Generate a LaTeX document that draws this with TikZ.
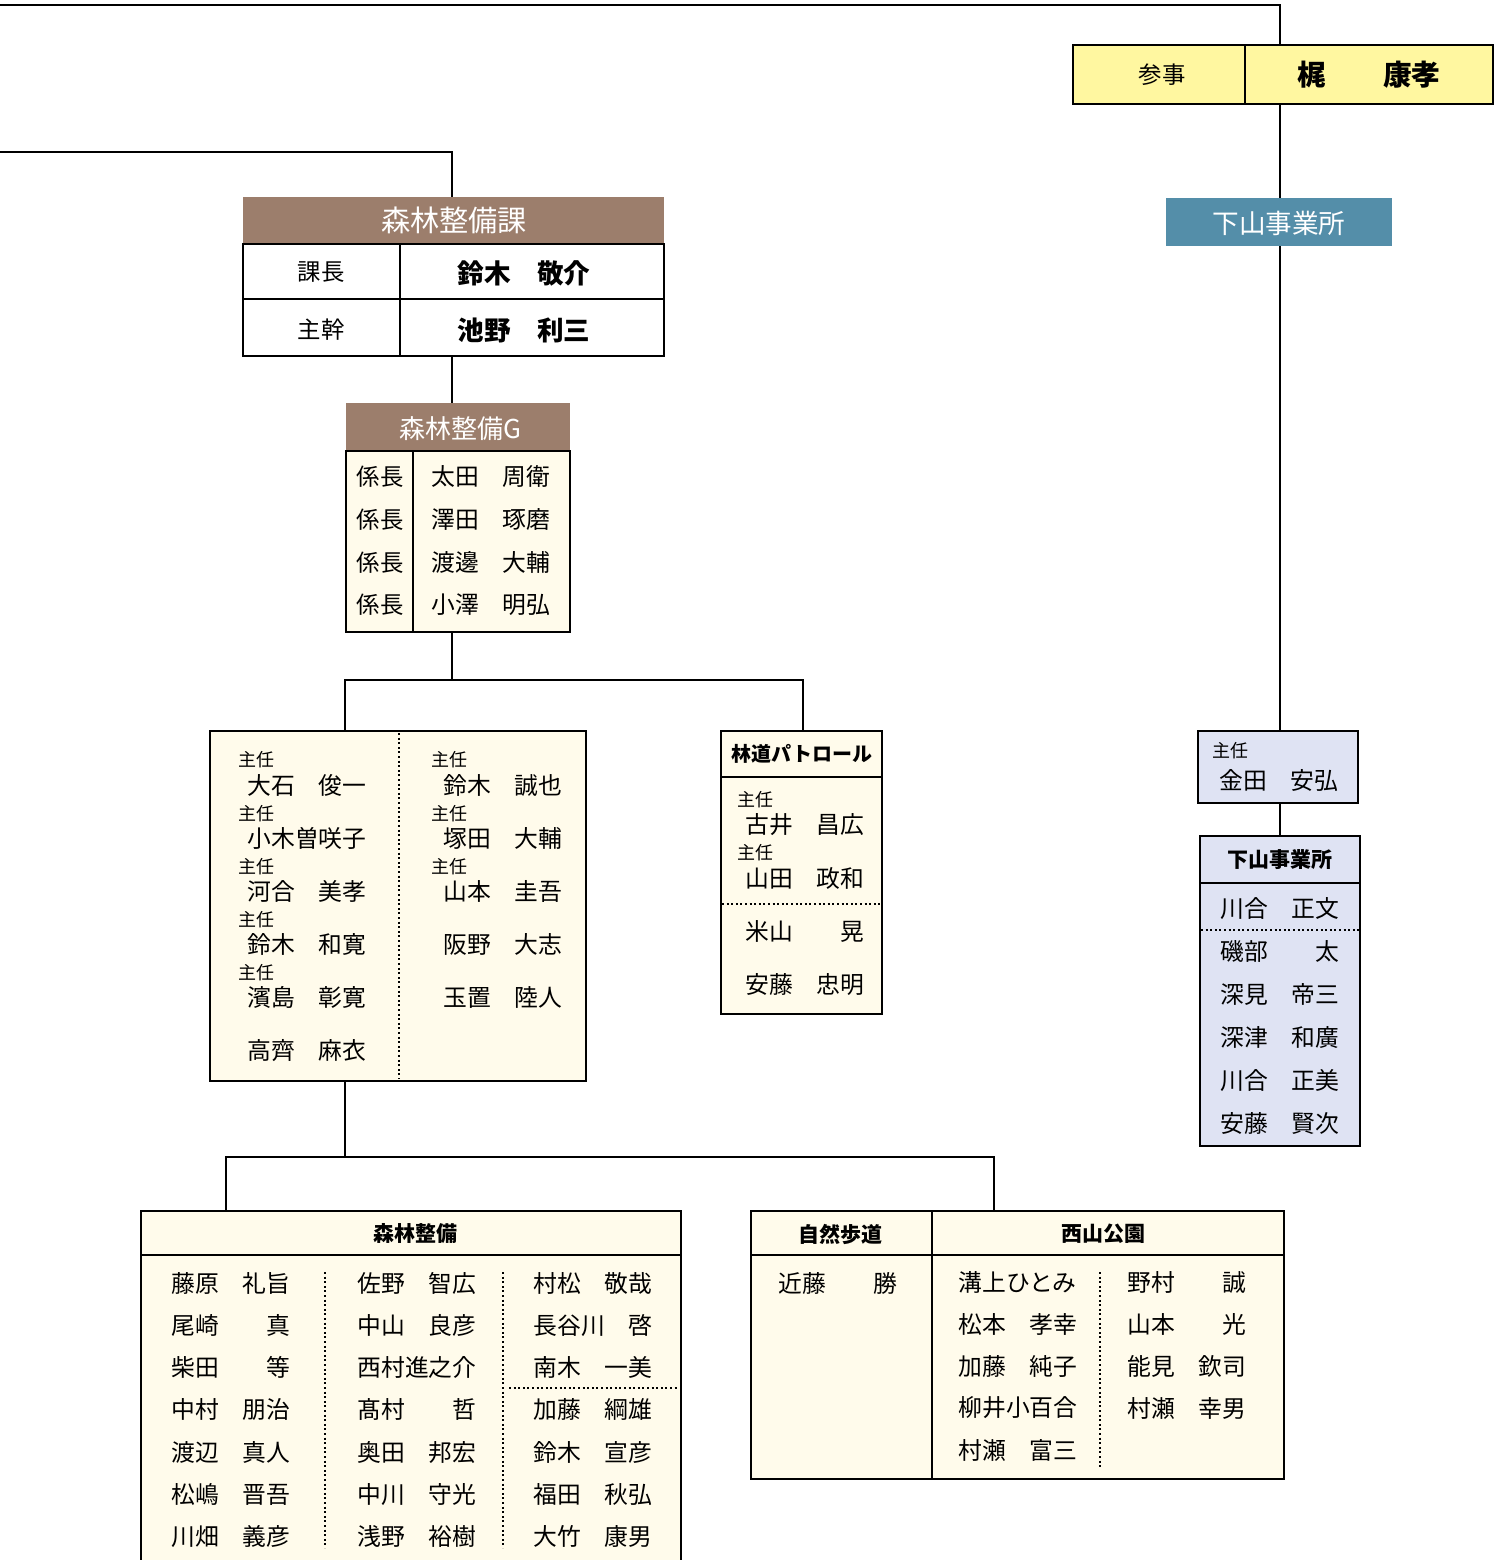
\documentclass[tikz,border=0pt]{standalone}
\usepackage{fontspec}
\setmainfont{Noto Sans CJK JP}
\usetikzlibrary{fit,backgrounds}
\definecolor{ylw}{HTML}{FFF7A0}
\definecolor{brn}{HTML}{9C7E6C}
\definecolor{blu}{HTML}{548EA9}
\definecolor{crm}{HTML}{FFFBEB}
\definecolor{lav}{HTML}{DFE3F3}
\begin{document}
\begin{tikzpicture}[x=0.5pt,y=-0.5pt,
  conn/.style={line width=1.3pt},
  frame/.style={draw, line width=1.4pt, inner sep=0pt},
  hdr/.style={fill=brn, inner sep=0pt},
  sep/.style={line width=1.1pt},
  dots/.style={line width=0.9pt, dash pattern=on 1pt off 1.3pt},
  nm/.style={anchor=west, inner sep=0pt, font=\fontsize{11.9}{12}\selectfont},
  sm/.style={anchor=west, inner sep=0pt, font=\fontsize{9}{10}\selectfont},
  lbl/.style={inner sep=0pt, font=\fontsize{11.7}{12}\selectfont},
  big/.style={inner sep=0pt, font=\bfseries\fontsize{13.3}{14}\selectfont},
  ttl/.style={inner sep=0pt, font=\bfseries\fontsize{10.5}{12}\selectfont},
  wttl/.style={inner sep=0pt, text=white},
]
\path[use as bounding box] (0,0) rectangle (1494,1560);
\clip (0,0) rectangle (1494,1560);

% ---- top: sanji
\node[frame, fill=ylw, fit={(1073,45) (1493,104)}] (sanji) {};
\draw[sep] (1245,45) -- (1245,104);
\node[lbl] (sanjiL) at (1162,75) {参事};
\node[inner sep=0pt, font=\bfseries\fontsize{14.3}{15}\selectfont] (sanjiN) at (1369,75) {梶　　康孝};

% ---- shimoyama blue
\node[fill=blu, inner sep=0pt, fit={(1166,198) (1392,246)}] (shimo) {};
\node[wttl, font=\fontsize{13.3}{14}\selectfont] (shimoL) at (1279,223) {下山事業所};

% ---- kacho
\node[hdr, fit={(243,197) (664,244)}] (kachoH) {};
\node[wttl, font=\fontsize{14.6}{15}\selectfont] (kachoT) at (454,220) {森林整備課};
\node[frame, fit={(243,244) (664,356)}] (kacho) {};
\draw[sep] (243,299) -- (664,299);
\draw[sep] (400,244) -- (400,356);
\node[lbl] (k1) at (321,272) {課長};
\node[big] (k2) at (524,273) {鈴木　敬介};
\node[lbl] (k3) at (321,330) {主幹};
\node[big] (k4) at (524,330) {池野　利三};

% ---- group G
\node[hdr, fit={(346,403) (570,451)}] (grpH) {};
\node[wttl, font=\fontsize{13}{14}\selectfont] (grpT) at (460,429) {森林整備G};
\node[frame, fill=crm, fit={(346,451) (570,632)}] (grp) {};
\draw[sep] (413,451) -- (413,632);
\foreach \nmx [count=\i] in {太田　周衛,澤田　琢磨,渡邊　大輔,小澤　明弘} {
  \node[lbl] (gk\i) at (380,{477+42.7*(\i-1)}) {係長};
  \node[nm] (gn\i) at (431,{477+42.7*(\i-1)}) {\nmx};
}

% ---- big box
\node[frame, fill=crm, fit={(210,731) (586,1081)}] (bigb) {};
\draw[dots] (399,733) -- (399,1079);
\foreach \nmx [count=\i] in {大石　俊一,小木曽咲子,河合　美孝,鈴木　和寛,濱島　彰寛,高齊　麻衣}
  \node[nm] (bl\i) at (247,{785+53.2*(\i-1)}) {\nmx};
\foreach \i in {1,...,5}
  \node[sm] (blc\i) at (238,{760+53.2*(\i-1)}) {主任};
\foreach \nmx [count=\i] in {鈴木　誠也,塚田　大輔,山本　圭吾,阪野　大志,玉置　陸人}
  \node[nm] (br\i) at (443,{785+53.2*(\i-1)}) {\nmx};
\foreach \i in {1,...,3}
  \node[sm] (brc\i) at (431,{760+53.2*(\i-1)}) {主任};

% ---- rindo patrol
\node[frame, fill=crm, fit={(721,731) (882,1014)}] (rindo) {};
\draw[sep] (721,777) -- (882,777);
\draw[dots] (722,904) -- (881,904);
\node[ttl, font=\bfseries\fontsize{10}{12}\selectfont] (rindoT) at (802,754) {林道パトロール};
\node[sm] (rc1) at (737,800) {主任};
\node[nm] (rn1) at (745,825) {古井　昌広};
\node[sm] (rc2) at (737,853) {主任};
\node[nm] (rn2) at (745,878) {山田　政和};
\node[nm] (rn3) at (745,931) {米山　　晃};
\node[nm] (rn4) at (745,985) {安藤　忠明};

% ---- right chief
\node[frame, fill=lav, fit={(1198,731) (1358,803)}] (kin) {};
\node[sm] (kinc) at (1212,751) {主任};
\node[nm] (kinn) at (1219,780) {金田　安弘};

% ---- shimoyama office box
\node[frame, fill=lav, fit={(1200,836) (1360,1146)}] (shimoB) {};
\draw[sep] (1200,883) -- (1360,883);
\draw[dots] (1201,930) -- (1359,930);
\node[ttl] (shimoBT) at (1280,860) {下山事業所};
\foreach \nmx [count=\i] in {川合　正文,磯部　　太,深見　帝三,深津　和廣,川合　正美,安藤　賢次}
  \node[nm] (sn\i) at (1220,{909+42.8*(\i-1)}) {\nmx};

% ---- shinrin seibi
\node[frame, fill=crm, fit={(141,1211) (681,1600)}] (shin) {};
\draw[sep] (141,1255) -- (681,1255);
\node[ttl] (shinT) at (415,1234) {森林整備};
\draw[dots] (325,1272) -- (325,1548);
\draw[dots] (503,1272) -- (503,1548);
\draw[dots] (509,1388) -- (678,1388);
\foreach \nmx [count=\i] in {藤原　礼旨,尾崎　　真,柴田　　等,中村　朋治,渡辺　真人,松嶋　晋吾,川畑　義彦}
  \node[nm] (sa\i) at (171,{1283+42.3*(\i-1)}) {\nmx};
\foreach \nmx [count=\i] in {佐野　智広,中山　良彦,西村進之介,髙村　　哲,奥田　邦宏,中川　守光,浅野　裕樹}
  \node[nm] (sb\i) at (357,{1283+42.3*(\i-1)}) {\nmx};
\foreach \nmx [count=\i] in {村松　敬哉,長谷川　啓,南木　一美,加藤　綱雄,鈴木　宣彦,福田　秋弘,大竹　康男}
  \node[nm] (sc\i) at (533,{1283+42.3*(\i-1)}) {\nmx};

% ---- shizen / nishiyama
\node[frame, fill=crm, fit={(751,1211) (1284,1479)}] (shiz) {};
\draw[sep] (932,1211) -- (932,1479);
\draw[sep] (751,1255) -- (1284,1255);
\draw[dots] (1100,1272) -- (1100,1468);
\node[ttl] (shizT) at (840,1234) {自然歩道};
\node[ttl] (nishT) at (1103,1234) {西山公園};
\node[nm] (kon) at (778,1283) {近藤　　勝};
\foreach \nmx [count=\i] in {溝上ひとみ,松本　孝幸,加藤　純子,柳井小百合,村瀬　富三}
  \node[nm] (na\i) at (958,{1282+42*(\i-1)}) {\nmx};
\foreach \nmx [count=\i] in {野村　　誠,山本　　光,能見　欽司,村瀬　幸男}
  \node[nm] (nb\i) at (1127,{1282+42*(\i-1)}) {\nmx};

% ---- connectors
\begin{scope}[on background layer]
\coordinate (t0) at (0,5);
\coordinate (vx) at (1280,5);
\draw[conn] (t0) -- (vx) -- (vx |- sanji.north);
\draw[conn] (vx |- sanji.south) -- (vx |- kin.north);
\draw[conn] (vx |- kin.south) -- (vx |- shimoB.north);
\coordinate (k0) at (0,152);
\coordinate (kx) at (452,152);
\draw[conn] (k0) -- (kx) -- (kx |- kachoH.north);
\draw[conn] (kx |- kacho.south) -- (kx |- grpH.north);
\coordinate (j1) at (452,680);
\coordinate (j1L) at (345,680);
\coordinate (j1R) at (803,680);
\draw[conn] (kx |- grp.south) -- (j1);
\draw[conn] (j1L |- bigb.north) -- (j1L) -- (j1R) -- (j1R |- rindo.north);
\coordinate (j2) at (345,1157);
\coordinate (j2L) at (226,1157);
\coordinate (j2R) at (994,1157);
\draw[conn] (j1L |- bigb.south) -- (j2);
\draw[conn] (j2L |- shin.north) -- (j2L) -- (j2R) -- (j2R |- shiz.north);
\end{scope}
\end{tikzpicture}
\end{document}
